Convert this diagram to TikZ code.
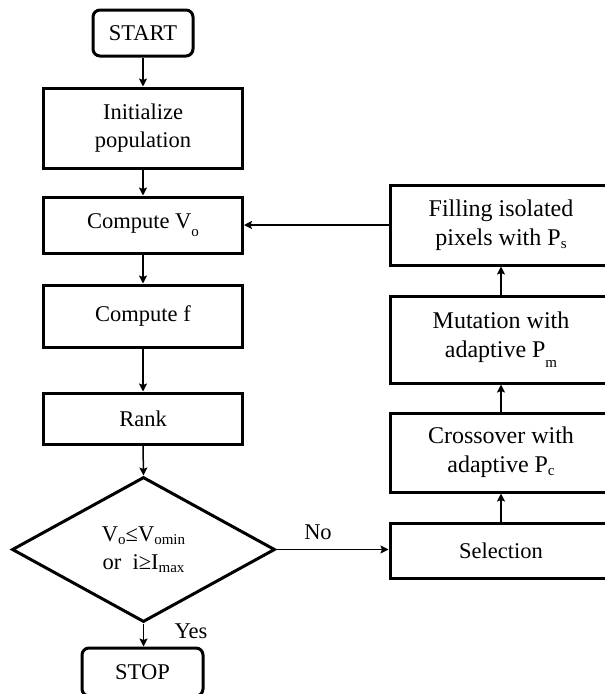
\documentclass[tikz,border=0pt]{standalone}
\usepackage{fontspec}
\setmainfont{Liberation Serif}
\usetikzlibrary{arrows.meta,shapes.geometric}
\newcommand{\lsub}[2][3pt]{\raisebox{-#1}{\fontsize{15}{15}\selectfont #2}}
\tikzset{
  box/.style={draw, line width=3pt, minimum width=199pt, inner sep=0pt, align=center},
  rbox/.style={draw, line width=3pt, minimum width=222pt, inner sep=0pt, align=center},
  bigtext/.style={font=\fontsize{24}{29}\selectfont},
  term/.style={draw, line width=3pt, rounded corners=7pt, inner sep=0pt, align=center},
  arr/.style={line width=1.5pt, -{Stealth[length=8pt,width=8pt,inset=1.5pt]}},
  lbl/.style={inner sep=0pt}
}
\begin{document}
\begin{tikzpicture}[x=1pt,y=-1pt,font=\fontsize{22.5}{28}\selectfont]
\path[use as bounding box, clip] (0,0) rectangle (605,694);
\fill[white] (0,0) rectangle (605,694);
% left column
\node[term, minimum width=100pt, minimum height=46pt] (start) at (143,33) {START};
\node[box, minimum height=80pt] (init) at (143,128) {Initialize\\population};
\node[box, minimum height=56pt] (cvo) at (143,225) {Compute V\lsub[8pt]{o}};
\node[box, minimum height=62pt] (cf) at (143,316) {Compute f};
\node[box, minimum height=51pt] (rank) at (143,418.5) {Rank};
\node[draw, diamond, line width=3pt, inner sep=0pt, aspect=1.81, minimum width=263pt, minimum height=145pt, align=center] (dec) at (143.5,549.5) {V\lsub{o}≤V\lsub{omin}\\or\ \ i≥I\lsub{max}};
\node[term, minimum width=121pt, minimum height=48pt] (stop) at (142.5,672) {STOP};
% right column
\node[rbox, bigtext, minimum height=80pt] (fill) at (501,225) {Filling isolated\\pixels with P\lsub{s}};
\node[rbox, bigtext, minimum height=87pt] (mut) at (501,339.5) {Mutation with\\adaptive P\lsub[10pt]{m}};
\node[rbox, bigtext, minimum height=79pt] (cross) at (501,452.5) {Crossover with\\adaptive P\lsub{c}};
\node[rbox, minimum height=55pt] (sel) at (501,550.5) {Selection};
% connectors
\draw[arr] (start.south) -- (init.north);
\draw[arr] (init.south) -- (cvo.north);
\draw[arr] (cvo.south) -- (cf.north);
\draw[arr] (cf.south) -- (rank.north);
\draw[arr] (rank.south) -- (dec.north);
\draw[arr] (dec.south) -- (dec.south |- stop.north);
\draw[arr] (dec.east) -- (dec.east -| sel.west);
\draw[arr, line width=2.5pt] (sel.north) -- (cross.south);
\draw[arr] (cross.north) -- (mut.south);
\draw[arr] (mut.north) -- (fill.south);
\draw[arr] (fill.west) -- (cvo.east);
% labels
\node[lbl] (no) at (318,532) {No};
\node[lbl] (yes) at (191,631) {Yes};
\end{tikzpicture}
\end{document}
